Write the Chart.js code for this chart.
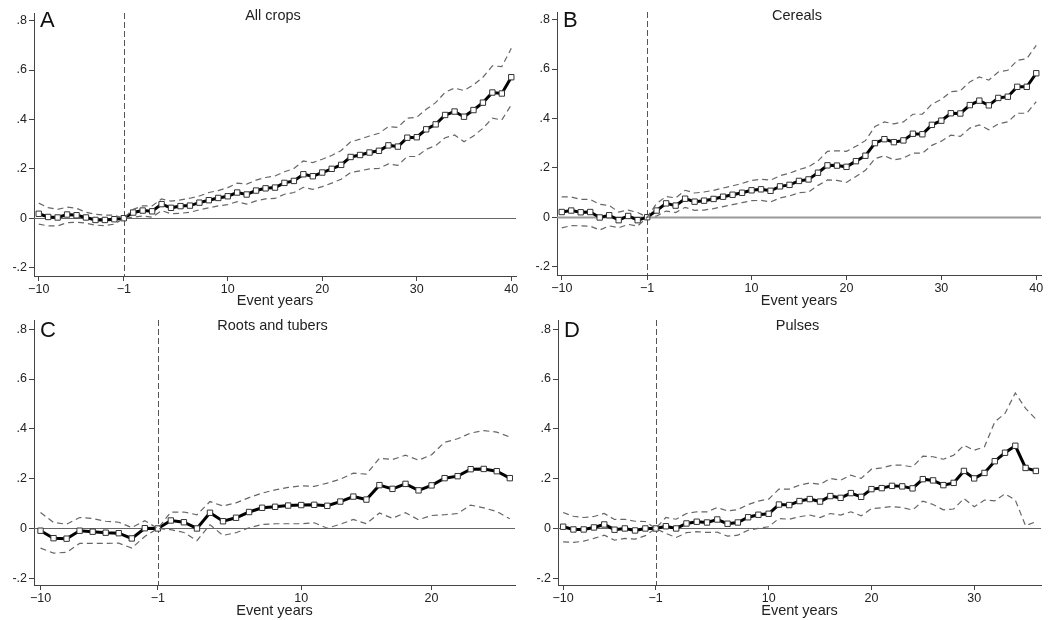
<!DOCTYPE html>
<html><head><meta charset="utf-8">
<script src="https://cdn.jsdelivr.net/npm/chart.js@4.4.1/dist/chart.umd.min.js"></script>
<style>
html,body{margin:0;padding:0;background:#fff;width:1048px;height:620px;overflow:hidden;}
.p{position:absolute;width:524px;height:310px;}
canvas{display:block;}
</style></head><body>
<div class="p" style="left:0;top:0"><canvas id="cA" width="524" height="310"></canvas></div>
<div class="p" style="left:524px;top:0"><canvas id="cB" width="524" height="310"></canvas></div>
<div class="p" style="left:0;top:310px"><canvas id="cC" width="524" height="310"></canvas></div>
<div class="p" style="left:524px;top:310px"><canvas id="cD" width="524" height="310"></canvas></div>
<script>
// ---------- data ----------
const yearsAB = [-10,-9,-8,-7,-6,-5,-4,-3,-2,-1,0,1,2,3,4,5,6,7,8,9,10,11,12,13,14,15,16,17,18,19,20,21,22,23,24,25,26,27,28,29,30,31,32,33,34,35,36,37,38,39,40];
const yearsC = [-10,-9,-8,-7,-6,-5,-4,-3,-2,-1,0,1,2,3,4,5,6,7,8,9,10,11,12,13,14,15,16,17,18,19,20,21,22,23,24,25,26];
const yearsD = [-10,-9,-8,-7,-6,-5,-4,-3,-2,-1,0,1,2,3,4,5,6,7,8,9,10,11,12,13,14,15,16,17,18,19,20,21,22,23,24,25,26,27,28,29,30,31,32,33,34,35,36];

const estA = [0.018,0.005,0.003,0.015,0.012,0.003,-0.007,-0.007,-0.004,0,
  0.023,0.031,0.028,0.057,0.042,0.049,0.051,0.063,0.073,0.082,0.089,
  0.104,0.096,0.112,0.121,0.124,0.143,0.151,0.178,0.170,0.185,
  0.200,0.216,0.248,0.256,0.266,0.273,0.295,0.290,0.326,0.328,
  0.360,0.380,0.418,0.432,0.411,0.438,0.468,0.509,0.505,0.571];
const upperA = [0.061,0.043,0.036,0.045,0.040,0.024,0.016,0.013,0.012,0,
  0.036,0.050,0.050,0.078,0.069,0.074,0.081,0.090,0.104,0.112,0.124,
  0.142,0.138,0.154,0.165,0.171,0.188,0.201,0.232,0.225,0.239,
  0.254,0.274,0.309,0.320,0.333,0.344,0.371,0.368,0.405,0.409,
  0.441,0.468,0.510,0.527,0.517,0.540,0.571,0.617,0.614,0.688];
const lowerA = [-0.024,-0.031,-0.031,-0.018,-0.016,-0.020,-0.028,-0.030,-0.024,0,
  0.004,0.009,0.004,0.031,0.018,0.020,0.024,0.034,0.042,0.050,0.055,
  0.067,0.057,0.070,0.078,0.080,0.097,0.104,0.125,0.117,0.128,
  0.142,0.158,0.185,0.192,0.200,0.202,0.220,0.214,0.250,0.250,
  0.279,0.294,0.326,0.337,0.310,0.333,0.364,0.405,0.398,0.459];

const estB = [0.021,0.027,0.020,0.021,-0.001,0.008,-0.012,0.005,-0.012,0,
  0.027,0.056,0.047,0.075,0.063,0.067,0.074,0.083,0.091,0.099,0.109,
  0.113,0.107,0.125,0.131,0.147,0.153,0.180,0.210,0.209,0.204,
  0.227,0.249,0.300,0.316,0.304,0.311,0.338,0.336,0.374,0.391,
  0.421,0.420,0.454,0.472,0.453,0.483,0.488,0.528,0.528,0.583];
const upperB = [0.082,0.082,0.072,0.072,0.052,0.048,0.021,0.029,0.019,0,
  0.056,0.084,0.078,0.109,0.098,0.102,0.109,0.118,0.127,0.137,0.149,
  0.154,0.150,0.168,0.178,0.193,0.204,0.228,0.267,0.269,0.267,
  0.287,0.310,0.367,0.386,0.378,0.386,0.417,0.417,0.458,0.477,
  0.508,0.512,0.548,0.568,0.555,0.588,0.595,0.635,0.642,0.696];
const lowerB = [-0.043,-0.034,-0.035,-0.036,-0.052,-0.035,-0.043,-0.029,-0.036,0,
  0.005,0.025,0.019,0.040,0.028,0.029,0.035,0.043,0.051,0.059,0.067,
  0.068,0.062,0.078,0.086,0.099,0.102,0.129,0.151,0.149,0.141,
  0.165,0.190,0.237,0.249,0.232,0.239,0.260,0.259,0.291,0.308,
  0.332,0.327,0.361,0.374,0.354,0.378,0.386,0.421,0.421,0.468];

const estC = [-0.009,-0.039,-0.041,-0.009,-0.013,-0.017,-0.019,-0.040,0.001,0,
  0.032,0.025,0.000,0.063,0.029,0.043,0.066,0.083,0.087,0.092,0.094,
  0.095,0.091,0.108,0.128,0.116,0.174,0.159,0.179,0.153,0.173,
  0.202,0.210,0.238,0.239,0.230,0.202];
const upperC = [0.064,0.024,0.017,0.044,0.040,0.029,0.025,0.004,0.031,0,
  0.066,0.066,0.055,0.108,0.090,0.103,0.124,0.142,0.155,0.165,0.171,
  0.169,0.182,0.198,0.222,0.218,0.282,0.277,0.294,0.274,0.296,
  0.346,0.360,0.383,0.393,0.387,0.367];
const lowerC = [-0.079,-0.099,-0.096,-0.060,-0.060,-0.060,-0.059,-0.079,-0.032,0,
  -0.005,-0.016,-0.049,0.015,-0.028,-0.017,0.003,0.016,0.019,0.019,0.019,
  0.023,0.001,0.017,0.036,0.019,0.062,0.041,0.063,0.035,0.052,
  0.055,0.060,0.094,0.083,0.068,0.039];

const estD = [0.007,-0.004,-0.004,0.004,0.016,-0.005,0,-0.008,0,0,
  0.009,0,0.020,0.027,0.024,0.036,0.019,0.024,0.045,0.055,0.059,
  0.096,0.094,0.110,0.118,0.108,0.130,0.123,0.142,0.127,0.158,
  0.162,0.171,0.169,0.161,0.198,0.193,0.174,0.183,0.231,0.201,
  0.223,0.270,0.304,0.332,0.243,0.231];
const upperD = [0.064,0.049,0.044,0.048,0.060,0.036,0.037,0.029,0.028,0,
  0.044,0.037,0.060,0.067,0.067,0.084,0.070,0.076,0.096,0.110,0.118,
  0.158,0.158,0.174,0.183,0.177,0.201,0.194,0.214,0.201,0.238,
  0.243,0.254,0.254,0.247,0.290,0.288,0.278,0.294,0.334,0.314,
  0.328,0.428,0.462,0.544,0.482,0.439];
const lowerD = [-0.054,-0.056,-0.051,-0.040,-0.027,-0.047,-0.040,-0.043,-0.029,0,
  -0.020,-0.036,-0.017,-0.013,-0.016,-0.015,-0.031,-0.027,-0.007,0,0.007,
  0.040,0.037,0.047,0.054,0.044,0.060,0.054,0.067,0.051,0.080,
  0.083,0.088,0.084,0.074,0.110,0.096,0.075,0.078,0.120,0.087,
  0.114,0.111,0.139,0.114,0.011,0.027];

const xTicksAB = [-10,-1,10,20,30,40];
const xTicksC = [-10,-1,10,20];
const xTicksD = [-10,-1,10,20,30];
const yTickValues = [-0.2,0,0.2,0.4,0.6,0.8];
const yTickLabels = ['-.2','0','.2','.4','.6','.8'];
const panelTitles = ['All crops','Cereals','Roots and tubers','Pulses'];
const panelLetters = ['A','B','C','D'];
const xAxisTitle = 'Event years';
const eventYear = -1;

// ---------- drawing ----------
const FONT = "'Liberation Sans', Arial, Helvetica, sans-serif";
const fmtX = v => (v < 0 ? '\u2212' + Math.abs(v) : String(v));

const refPlugin = {
  id: 'ref',
  beforeDatasetsDraw(chart, args, o) {
    const {ctx, chartArea: a, scales: {x, y}} = chart;
    ctx.save();
    const y0 = Math.round(y.getPixelForValue(0)) + 0.5;
    ctx.strokeStyle = o.zeroColor; ctx.lineWidth = o.zeroWidth;
    ctx.beginPath(); ctx.moveTo(a.left, y0); ctx.lineTo(a.right, y0); ctx.stroke();
    const xv = Math.round(x.getPixelForValue(eventYear)) + 0.5;
    ctx.setLineDash([6, 3]); ctx.strokeStyle = '#555'; ctx.lineWidth = 1;
    ctx.beginPath(); ctx.moveTo(xv, a.top); ctx.lineTo(xv, a.bottom); ctx.stroke();
    ctx.restore();
  },
  afterDraw(chart, args, o) {
    const {ctx, chartArea: a} = chart;
    ctx.save();
    ctx.fillStyle = '#111';
    ctx.textBaseline = 'alphabetic';
    ctx.font = '22px ' + FONT;
    ctx.textAlign = 'left';
    ctx.fillText(o.letter, a.left + 6, 27);
    ctx.font = '14.5px ' + FONT;
    ctx.textAlign = 'center';
    ctx.fillStyle = '#222';
    ctx.fillText(o.title, (a.left + a.right) / 2 - 2, 20);
    ctx.restore();
  }
};

function panel(id, o) {
  const mk = vals => o.years.map((x, i) => ({x, y: vals[i]}));
  const ci = vals => ({data: mk(vals), borderColor: '#666', borderWidth: 1.2, borderDash: [6, 4],
    pointRadius: 0, fill: false, tension: 0});
  new Chart(document.getElementById(id), {
    type: 'line',
    data: {datasets: [
      ci(o.upper), ci(o.lower),
      {data: mk(o.est), borderColor: '#000', borderWidth: 3, tension: 0, fill: false,
       pointStyle: 'rect', pointRadius: 3.8, pointBackgroundColor: '#fff',
       pointBorderColor: '#333', pointBorderWidth: 1}
    ]},
    options: {
      responsive: false, animation: false, devicePixelRatio: 1,
      layout: {padding: {top: o.padTop, right: o.padRight, bottom: 0, left: 0}},
      plugins: {legend: {display: false}, tooltip: {enabled: false},
        ref: {letter: o.letter, title: o.title, zeroColor: o.zeroColor, zeroWidth: o.zeroWidth}},
      scales: {
        x: {type: 'linear', min: o.xmin, max: o.xmax,
          afterBuildTicks: s => { s.ticks = o.xticks.map(v => ({value: v})); },
          afterFit: s => { s.height = o.xh; },
          grid: {display: true, drawOnChartArea: false, drawTicks: true, tickLength: 5, color: '#444', tickColor: '#444'},
          border: {display: true, color: '#444', width: 1},
          ticks: {font: {family: FONT, size: 12.5}, color: '#222', padding: 1, maxRotation: 0, autoSkip: false,
            callback: v => fmtX(v)},
          title: {display: true, text: xAxisTitle, font: {family: FONT, size: 14.5}, color: '#222', padding: 0}
        },
        y: {type: 'linear', min: o.ymin, max: o.ymax,
          afterBuildTicks: s => { s.ticks = yTickValues.map(v => ({value: v})); },
          afterFit: s => { s.width = o.yw; },
          grid: {display: true, drawOnChartArea: false, drawTicks: true, tickLength: 5, color: '#444', tickColor: '#444'},
          border: {display: true, color: '#444', width: 1},
          ticks: {font: {family: FONT, size: 12.5}, color: '#222', padding: 2,
            callback: v => { const i = yTickValues.findIndex(t => Math.abs(t - v) < 1e-9); return i >= 0 ? yTickLabels[i] : ''; }}
        }
      }
    },
    plugins: [refPlugin]
  });
}

panel('cA', {years: yearsAB, est: estA, upper: upperA, lower: lowerA, xticks: xTicksAB,
  xmin: -10.5, xmax: 40.5, ymin: -0.234, ymax: 0.831, padTop: 13, padRight: 8, xh: 34, yw: 34,
  letter: panelLetters[0], title: panelTitles[0], zeroColor: '#666', zeroWidth: 1});
panel('cB', {years: yearsAB, est: estB, upper: upperB, lower: lowerB, xticks: xTicksAB,
  xmin: -10.5, xmax: 40.5, ymin: -0.234, ymax: 0.831, padTop: 12, padRight: 7, xh: 35, yw: 33,
  letter: panelLetters[1], title: panelTitles[1], zeroColor: '#999', zeroWidth: 1.8});
panel('cC', {years: yearsC, est: estC, upper: upperC, lower: lowerC, xticks: xTicksC,
  xmin: -10.5, xmax: 26.4, ymin: -0.227, ymax: 0.837, padTop: 10, padRight: 9, xh: 35, yw: 34,
  letter: panelLetters[2], title: panelTitles[2], zeroColor: '#666', zeroWidth: 1});
panel('cD', {years: yearsD, est: estD, upper: upperD, lower: lowerD, xticks: xTicksD,
  xmin: -10.5, xmax: 36.5, ymin: -0.227, ymax: 0.837, padTop: 10, padRight: 7, xh: 35, yw: 34,
  letter: panelLetters[3], title: panelTitles[3], zeroColor: '#666', zeroWidth: 1});
</script>
</body></html>
